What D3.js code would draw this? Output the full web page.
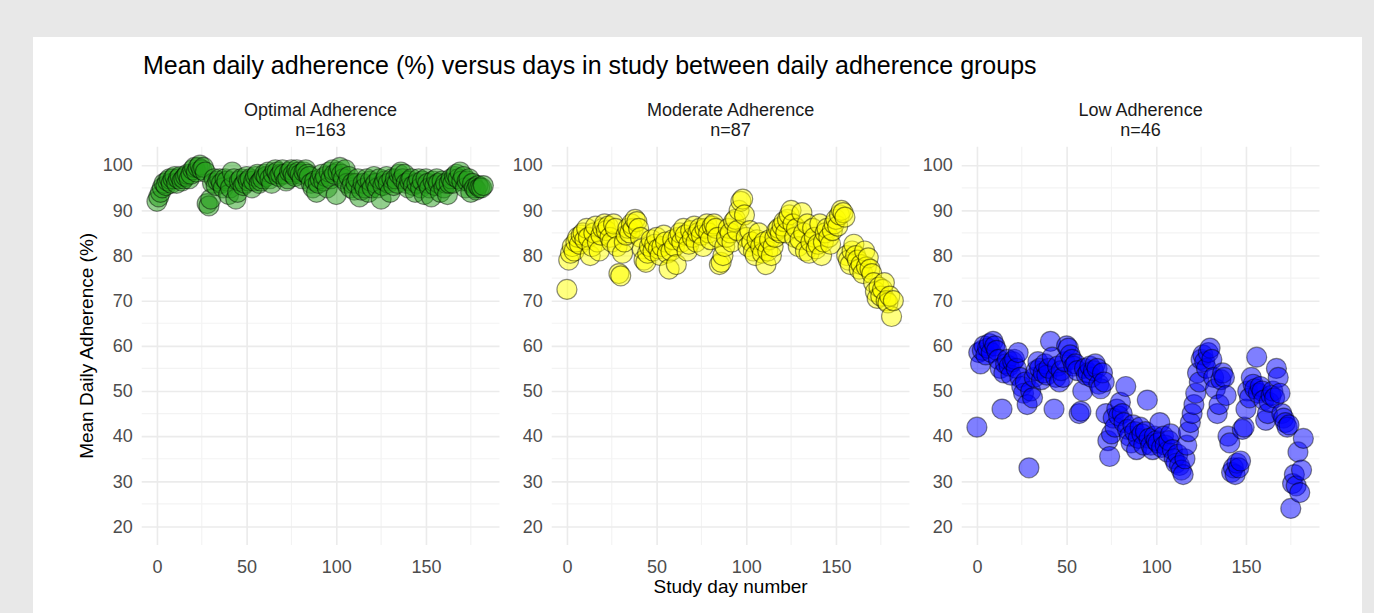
<!DOCTYPE html>
<html>
<head>
<meta charset="utf-8">
<script src="https://cdn.jsdelivr.net/npm/d3@7"></script>
<style>
	body { margin: 0; background: #e8e8e8; }
	text { font-family: "Liberation Sans", Arial, sans-serif; }
</style>
</head>
<body>
<div id="container"></div>
<script>

// facet names and group sizes
var groups = ['Optimal Adherence', 'Moderate Adherence', 'Low Adherence'];
var groupN = [163, 87, 46];

// mean daily adherence (%) for study days 0..182
var optimalValues = [
	92, 93, 94, 95, 96, 95.5, 96.5, 97, 96, 97,
	97.5, 96, 97, 97.5, 96.5, 97, 97.5, 98, 97, 98,
	99, 99.5, 98.5, 99.5, 100, 99, 99.5, 98.5, 91.5, 91,
	92.5, 96, 97, 95.5, 96.5, 97, 96, 95, 97, 96.5,
	93.5, 95, 98.5, 97, 92.5, 94, 96.5, 97, 95.5, 96,
	97.5, 96.5, 97, 95, 96.5, 97.5, 98, 96, 96.5, 97,
	98, 97.5, 98.5, 97, 96, 98, 99, 98.5, 97.5, 98,
	99, 98, 96.5, 97, 98.5, 99, 98, 97.5, 99, 98.5,
	98, 97, 98.5, 99, 98, 97.5, 96, 95, 96.5, 94,
	96, 97, 98, 96.5, 97.5, 95, 98.5, 97, 99, 98,
	93.5, 98.5, 99.5, 98, 97, 99, 96, 97.5, 95, 96,
	94.5, 96, 97, 93, 94.5, 96, 95, 97, 94, 96.5,
	95, 97.5, 96, 95, 97, 92.5, 95.5, 96.5, 97.5, 96,
	94, 97, 95.5, 97, 96, 98, 98.5, 97, 98, 96,
	95, 96.5, 97, 95.5, 94, 96, 97, 95, 96.5, 93.5,
	97, 96, 95, 93, 96.5, 95.5, 97, 96, 94, 96.5,
	95, 96, 93.5, 96, 97, 96, 97.5, 98, 97, 98.5,
	96.5, 97.5, 95, 96.5, 97, 94, 96, 95, 94.5, 95.5,
	95, 95, 95.5
];

var moderateValues = [
	72.5, 79, 80.5, 82, 81, 83, 84, 82.5, 84.5, 85,
	83.5, 86, 84, 80, 82, 85, 86.5, 83, 81, 84.5,
	86, 87, 85.5, 86.5, 84, 83, 87, 86, 82, 76,
	75.5, 80.5, 83, 84.5, 86, 85, 87, 86, 88, 87.5,
	86, 84, 81.5, 79, 78.5, 80.5, 82, 83.5, 81, 82.5,
	84, 81.5, 80, 82, 84.5, 83, 80.5, 77, 81, 83.5,
	82, 78, 84, 85, 83, 86, 84.5, 81, 82.5, 85.5,
	84, 86.5, 83, 85, 86, 84.5, 82, 86, 87, 85,
	83.5, 86.5, 87, 86, 84, 78, 78.5, 80, 82, 84,
	86, 85, 83, 87.5, 88, 85.5, 90, 92, 92.5, 89,
	84, 82, 85.5, 83, 81, 80, 83.5, 85, 82, 80.5,
	83, 78, 81, 83.5, 80, 82, 84, 85.5, 86, 85,
	86.5, 87.5, 85, 88, 89, 90, 87, 84, 86, 82,
	83.5, 89.5, 85, 81, 87, 80.5, 83, 86, 84, 81.5,
	82.5, 87, 80, 83, 85, 86, 84, 82.5, 85.5, 87,
	88, 86.5, 89, 90, 89.5, 88.5, 80, 79, 78, 81,
	82.5, 80, 79, 77, 78, 76, 81, 77.5, 79.5, 77,
	76, 74, 72, 70.5, 73, 71, 72.5, 74, 70, 69.5,
	71, 66.5, 70
];

var lowValues = [
	42, 58.5, 56, 59, 60, 58, 59.5, 60.5, 58.5, 61,
	60, 59, 57, 55, 46, 54, 56, 57, 55.5, 53.5,
	56.5, 57, 55, 58.5, 53, 51, 49.5, 52, 47, 33,
	50, 48.5, 53, 54.5, 56.5, 55, 52.5, 54, 56, 53.5,
	55, 61, 57.5, 46, 53, 55.5, 52, 54.5, 53, 56.5,
	60, 59.5, 58, 57, 55.5, 56, 54.5, 45, 45.5, 50,
	55, 53.5, 54, 55.5, 53, 54.5, 56, 55, 51.5, 50.5,
	54, 52, 45, 39, 35.5, 40.5, 44, 42, 46, 44.5,
	47.5, 45, 43, 51, 41.5, 40, 38.5, 42.5, 41, 37,
	39.5, 42, 40.5, 38, 41, 48, 39.5, 38, 37, 40,
	39, 38.5, 43, 37.5, 40, 38, 36.5, 39, 40.5, 37,
	35, 34, 36, 33.5, 32.5, 31.5, 35, 38, 41, 43,
	45, 47, 49.5, 54, 52, 57, 58, 56.5, 55, 58.5,
	59.5, 57, 53, 50.5, 45, 47, 52.5, 54, 53, 49,
	40, 38.5, 32, 33, 31.5, 34, 33, 34.5, 41.5, 42,
	46, 50, 48.5, 53, 51.5, 50.5, 57.5, 49.5, 51, 50,
	48, 43.5, 45, 47.5, 49, 50, 48.5, 55, 53, 49.5,
	45, 44, 43, 42, 42.5, 24, 29.5, 31.5, 29, 36.5,
	27.5, 32.5, 39.5
];

var seriesValues = [optimalValues, moderateValues, lowValues];
var pointColors = ['#26a01c', '#ffff00', '#0000ff'];

// tick labels
var xTicks = [0, 50, 100, 150];
var xMinor = [25, 75, 125, 175];
var yTicks = [20, 30, 40, 50, 60, 70, 80, 90, 100];
var yMinor = [25, 35, 45, 55, 65, 75, 85, 95];

var width = 1374,
	height = 613;

var panelLeft = 141.7,
	panelTop = 146.7,
	panelW = 357.8,
	panelH = 398.3,
	panelStep = 410;

function init(){

	var svg = d3.select('#container').append('svg')
		.attr('width', width)
		.attr('height', height);

	// white plot background inside the grey frame
	svg.append('rect')
		.attr('x', 33)
		.attr('y', 37)
		.attr('width', 1329)
		.attr('height', height - 37)
		.style('fill', '#ffffff');

	svg.append('text')
		.attr('x', 143)
		.attr('y', 74)
		.style('font-size', '25px')
		.style('fill', '#000')
		.text('Mean daily adherence (%) versus days in study between daily adherence groups');

	//shared scales, every facet uses the same ones
	var x = d3.scaleLinear().domain([-8.5, 191]).range([0, panelW]);
	var y = d3.scaleLinear().domain([15.9, 104.1]).range([panelH, 0]);

	for (var i = 0; i < groups.length; i++) {
		drawPanel(svg, i, x, y);
	}

	svg.append('text')
		.attr('transform', 'translate(93,' + (panelTop + y(60)) + ') rotate(-90)')
		.style('text-anchor', 'middle')
		.style('font-size', '19px')
		.style('fill', '#000')
		.text('Mean Daily Adherence (%)');

	svg.append('text')
		.attr('x', panelLeft + panelStep + panelW / 2)
		.attr('y', 593)
		.style('text-anchor', 'middle')
		.style('font-size', '19px')
		.style('fill', '#000')
		.text('Study day number');
}

function drawPanel(svg, i, x, y){

	var g = svg.append('g')
		.attr('transform', 'translate(' + (panelLeft + i * panelStep) + ',' + panelTop + ')');

	// minor grid first, then major
	g.selectAll('.hminor').data(yMinor).enter().append('line')
		.attr('x1', 0).attr('x2', panelW)
		.attr('y1', y).attr('y2', y)
		.style('stroke', '#f3f3f3').style('stroke-width', 1.2);

	g.selectAll('.vminor').data(xMinor).enter().append('line')
		.attr('x1', x).attr('x2', x)
		.attr('y1', 0).attr('y2', panelH)
		.style('stroke', '#f3f3f3').style('stroke-width', 1.2);

	var yAxis = d3.axisLeft(y).tickValues(yTicks).tickSize(-panelW).tickPadding(9);
	var xAxis = d3.axisBottom(x).tickValues(xTicks).tickSize(-panelH).tickPadding(15);

	var ya = g.append('g').call(yAxis);
	var xa = g.append('g').attr('transform', 'translate(0,' + panelH + ')').call(xAxis);

	[ya, xa].forEach(function(a) {
		a.select('.domain').remove();
		a.selectAll('line').style('stroke', '#ebebeb').style('stroke-width', 1.6);
		a.selectAll('text')
			.style('font-family', '"Liberation Sans", Arial, sans-serif')
			.style('font-size', '18px')
			.style('fill', '#4d4d4d');
	});

	var data = seriesValues[i].map(function(v, d) { return {day: d, value: v}; });

	g.selectAll('.dot')
		.data(data).enter()
		.append('circle')
			.attr('class', 'dot')
			.attr('r', 10)
			.attr('cx', function(d) { return x(d.day); })
			.attr('cy', function(d) { return y(d.value); })
			.style('fill', pointColors[i])
			.style('fill-opacity', 0.5)
			.style('stroke', '#000')
			.style('stroke-opacity', 0.45)
			.style('stroke-width', 1.2);

	// strip label, two lines
	var strip = svg.append('text')
		.attr('x', panelLeft + i * panelStep + panelW / 2)
		.attr('y', 116)
		.style('text-anchor', 'middle')
		.style('font-size', '18px')
		.style('fill', '#1a1a1a');
	strip.append('tspan').text(groups[i]);
	strip.append('tspan')
		.attr('x', panelLeft + i * panelStep + panelW / 2)
		.attr('dy', 20)
		.text('n=' + groupN[i]);
}

init();

</script>
</body>
</html>
